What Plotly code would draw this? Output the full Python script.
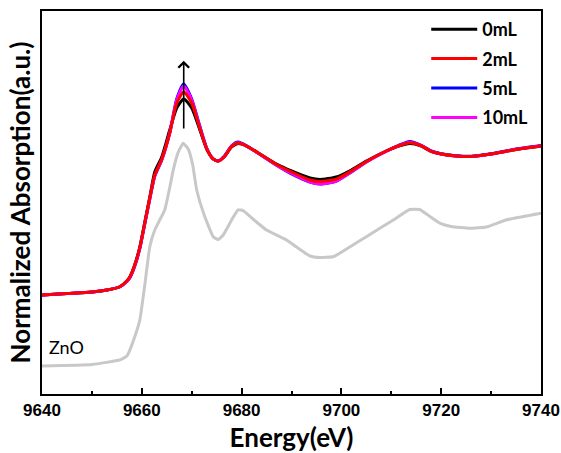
import plotly.graph_objects as go

# Energies (eV) for the sample spectra
energy = [9640, 9645, 9650, 9653, 9655.6, 9657, 9657.6, 9658.5, 9659.6, 9660.6,
          9661.6, 9662.6, 9664, 9665.6, 9667, 9668.4, 9670, 9671.5, 9673, 9674.3,
          9675.3, 9676.5, 9678, 9679.3, 9681, 9684, 9687, 9690, 9693.7, 9695.7,
          9699, 9702, 9705, 9709, 9711.5, 9713.7, 9716, 9718, 9720, 9723,
          9726, 9730, 9735, 9740]

ml0 = [0.0, 0.01, 0.02, 0.033, 0.055, 0.093, 0.12, 0.193, 0.32, 0.487,
       0.653, 0.82, 0.92, 1.10, 1.247, 1.307, 1.247, 1.113, 0.973, 0.907,
       0.893, 0.92, 0.987, 1.01, 0.993, 0.933, 0.873, 0.827, 0.78, 0.77,
       0.787, 0.833, 0.893, 0.96, 0.993, 1.01, 0.993, 0.957, 0.94, 0.927,
       0.923, 0.94, 0.97, 0.993]

ml2 = [0.0, 0.01, 0.02, 0.033, 0.055, 0.093, 0.12, 0.19, 0.315, 0.48,
       0.645, 0.80, 0.907, 1.08, 1.28, 1.353, 1.28, 1.125, 0.975, 0.907,
       0.893, 0.92, 0.99, 1.013, 0.993, 0.933, 0.87, 0.82, 0.767, 0.757,
       0.773, 0.827, 0.89, 0.96, 0.995, 1.015, 0.995, 0.957, 0.94, 0.927,
       0.923, 0.94, 0.97, 0.993]

ml5 = [0.0, 0.01, 0.02, 0.033, 0.055, 0.09, 0.115, 0.185, 0.31, 0.475,
       0.64, 0.793, 0.90, 1.08, 1.307, 1.407, 1.307, 1.14, 0.98, 0.907,
       0.893, 0.925, 0.995, 1.02, 0.995, 0.93, 0.865, 0.807, 0.753, 0.74,
       0.76, 0.82, 0.887, 0.96, 0.998, 1.023, 0.998, 0.96, 0.942, 0.928,
       0.925, 0.942, 0.973, 0.997]

ml10 = [0.0, 0.01, 0.02, 0.033, 0.055, 0.09, 0.115, 0.185, 0.31, 0.475,
        0.64, 0.795, 0.90, 1.08, 1.30, 1.393, 1.30, 1.133, 0.978, 0.907,
        0.893, 0.922, 0.992, 1.015, 0.993, 0.93, 0.865, 0.81, 0.753, 0.74,
        0.76, 0.82, 0.887, 0.958, 0.995, 1.018, 0.995, 0.958, 0.94, 0.927,
        0.924, 0.94, 0.971, 0.995]

# ZnO reference (offset below)
zno_energy = [9640, 9650, 9655.6, 9657, 9657.6, 9658.5, 9659.6, 9660.6, 9661.6, 9662.6,
              9663.6, 9664.6, 9665.5, 9666.3, 9667.3, 9668.3, 9669.3, 9670.2, 9671, 9672.5,
              9674.3, 9675.3, 9676.3, 9678, 9679.3, 9680.3, 9682.5, 9685, 9689, 9691,
              9693.7, 9695.7, 9698.5, 9702, 9705, 9710.4, 9713.7, 9715.7, 9717.8, 9719.8,
              9722, 9725.8, 9729, 9733, 9740]
zno = [-0.473, -0.463, -0.433, -0.407, -0.367, -0.287, -0.167, 0.067, 0.322, 0.433,
       0.50, 0.567, 0.70, 0.833, 0.953, 1.011, 0.973, 0.867, 0.70, 0.533,
       0.389, 0.37, 0.40, 0.50, 0.567, 0.563, 0.50, 0.433, 0.367, 0.32,
       0.26, 0.25, 0.257, 0.327, 0.389, 0.50, 0.57, 0.57, 0.522, 0.478,
       0.457, 0.445, 0.453, 0.50, 0.545]

x_ticks = [9640, 9660, 9680, 9700, 9720, 9740]
arrow_e = 9668.4
arrow_from = 1.10
arrow_to = 1.562

fig = go.Figure()

fig.add_trace(go.Scatter(x=zno_energy, y=zno, mode="lines", showlegend=False,
                         line=dict(color="#c8c8c8", width=3, shape="spline", smoothing=0.4)))
fig.add_trace(go.Scatter(x=energy, y=ml0, mode="lines", name="0mL", legendrank=1, legendgroup="a",
                         line=dict(color="black", width=3, shape="spline", smoothing=0.6)))
fig.add_trace(go.Scatter(x=energy, y=ml5, mode="lines", name="5mL", legendrank=3, legendgroup="c",
                         line=dict(color="#0000ff", width=3, shape="spline", smoothing=0.6)))
fig.add_trace(go.Scatter(x=energy, y=ml10, mode="lines", name="10mL", legendrank=4, legendgroup="d",
                         line=dict(color="#ff00ff", width=3, shape="spline", smoothing=0.6)))
fig.add_trace(go.Scatter(x=energy, y=ml2, mode="lines", name="2mL", legendrank=2, legendgroup="b",
                         line=dict(color="#ff0000", width=3, shape="spline", smoothing=0.6)))

fig.add_annotation(x=arrow_e, y=arrow_to, ax=arrow_e, ay=arrow_from,
                   xref="x", yref="y", axref="x", ayref="y",
                   showarrow=True, arrowhead=4, arrowsize=1.3, arrowwidth=1.6,
                   arrowcolor="black", text="")
fig.add_annotation(x=9641.0, y=-0.345, xref="x", yref="y", text="ZnO",
                   showarrow=False, xanchor="left",
                   font=dict(family="Lato", size=18, color="black"))

fig.update_layout(
    width=561, height=453,
    margin=dict(l=42, r=20, t=11, b=59),
    plot_bgcolor="white", paper_bgcolor="white",
    legend=dict(x=0.77, y=1.0, xanchor="left", yanchor="top",
                bgcolor="rgba(0,0,0,0)", itemwidth=46, tracegroupgap=3,
                font=dict(family="Lato", size=18, color="black", weight="bold")),
    xaxis=dict(range=[9640, 9740], tickvals=x_ticks, ticks="inside", ticklen=6,
               tickwidth=1.5, tickcolor="black", automargin=False,
               minor=dict(dtick=10, tick0=9640, ticks="inside", ticklen=3, tickwidth=1.5, tickcolor="black"),
               showline=True, linecolor="black", linewidth=1.5, mirror=True,
               showgrid=False, zeroline=False,
               tickfont=dict(family="Liberation Sans", size=17, color="black", weight="bold"),
               title=dict(text="Energy(eV)", standoff=15,
                          font=dict(family="Lato", size=26, color="black", weight="bold"))),
    yaxis=dict(range=[-0.66, 1.8933], showticklabels=False, ticks="", automargin=False,
               showline=True, linecolor="black", linewidth=1.5, mirror=True,
               showgrid=False, zeroline=False,
               title=dict(text="Normalized Absorption(a.u.)", standoff=2,
                          font=dict(family="Lato", size=26, color="black", weight="bold"))),
)

fig.write_html("out.html")
